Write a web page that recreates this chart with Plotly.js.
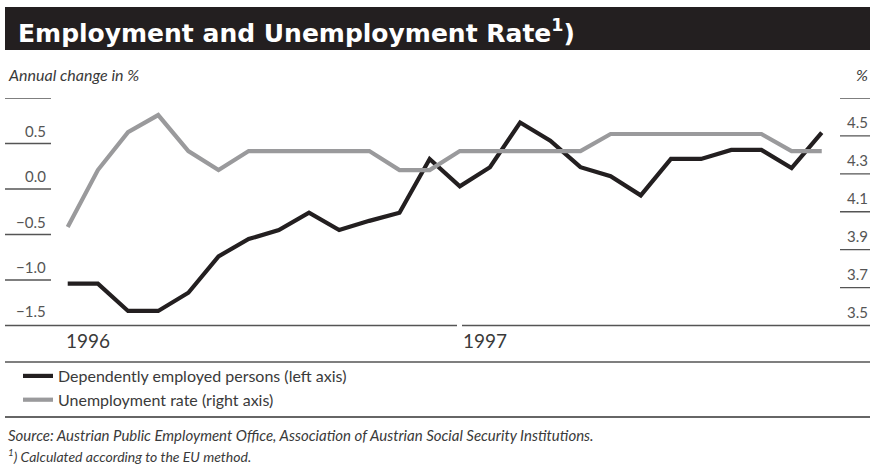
<!DOCTYPE html>
<html><head><meta charset="utf-8">
<script src="https://cdn.plot.ly/plotly-3.0.1.min.js"></script>
<style>html,body{margin:0;padding:0;background:#fff}#chart{width:870px;height:466px}</style>
</head><body><div id="chart"></div>
<script>
// ---- data ----
const monthIdx = [0,1,2,3,4,5,6,7,8,9,10,11,12,13,14,15,16,17,18,19,20,21,22,23,24,25];
const employment = [-1.04,-1.04,-1.34,-1.34,-1.14,-0.74,-0.55,-0.45,-0.26,-0.45,-0.35,-0.26,0.33,0.03,0.24,0.73,0.53,0.24,0.14,-0.07,0.33,0.33,0.43,0.43,0.23,0.62];
const unemployment = [4.02,4.32,4.52,4.61,4.42,4.32,4.42,4.42,4.42,4.42,4.42,4.32,4.32,4.42,4.42,4.42,4.42,4.42,4.51,4.51,4.51,4.51,4.51,4.51,4.42,4.42];
const yearLabels = ['1996','1997'];
const yearStart = [0,13];
const leftTicks = [1.0,0.5,0.0,-0.5,-1.0];
const leftLabels = ['','0.5','0.0','\u22120.5','\u22121.0'];
const leftBottom = -1.5, leftBottomLabel = '\u22121.5';
const rightTicks = [4.7,4.5,4.3,4.1,3.9,3.7];
const rightLabels = ['','4.5','4.3','4.1','3.9','3.7'];
const rightBottom = 3.5, rightBottomLabel = '3.5';
const seriesNames = ['Dependently employed persons (left axis)','Unemployment rate (right axis)'];

// ---- layout helpers ----
const W = 870, H = 466;
const px = v => v / W;
const py = v => 1 - v / H;
const txt = '#3a3a3a';
const tickTxt = '#555';

const traces = [
  {x: monthIdx, y: employment, name: seriesNames[0], type: 'scatter', mode: 'lines',
   line: {color: '#231f20', width: 4.2}, yaxis: 'y'},
  {x: monthIdx, y: unemployment, name: seriesNames[1], type: 'scatter', mode: 'lines',
   line: {color: '#9a9a9c', width: 4.2}, yaxis: 'y2'}
];

const shapes = [
  {type: 'rect', xref: 'paper', yref: 'paper', x0: px(5), x1: 1, y0: py(50), y1: py(7),
   fillcolor: '#231f20', line: {width: 0}, layer: 'below'},
  {type: 'line', xref: 'paper', yref: 'paper', x0: px(5), x1: px(457), y0: py(325.5), y1: py(325.5), line: {color: '#555', width: 1.4}},
  {type: 'line', xref: 'paper', yref: 'paper', x0: px(462), x1: 1, y0: py(325.5), y1: py(325.5), line: {color: '#555', width: 1.4}},
  {type: 'line', xref: 'paper', yref: 'paper', x0: px(5), x1: 1, y0: py(362), y1: py(362), line: {color: '#555', width: 1.4}},
  {type: 'line', xref: 'paper', yref: 'paper', x0: px(5), x1: 1, y0: py(417), y1: py(417), line: {color: '#333', width: 1.4}}
];
leftTicks.forEach(v => shapes.push({type: 'line', xref: 'paper', yref: 'y', x0: px(5), x1: px(51), y0: v, y1: v, line: {color: '#555', width: 1.4}}));
rightTicks.forEach(v => shapes.push({type: 'line', xref: 'paper', yref: 'y2', x0: px(840), x1: 1, y0: v, y1: v, line: {color: '#555', width: 1.4}}));

const annotations = [
  {xref: 'paper', yref: 'paper', x: px(16), y: py(31), xanchor: 'left', yanchor: 'middle', showarrow: false,
   text: '<b>Employment and Unemployment Rate<sup>1</sup>)</b>', font: {family: 'DejaVu Sans', size: 25, color: '#ffffff'}},
  {xref: 'paper', yref: 'paper', x: px(6), y: py(74), xanchor: 'left', yanchor: 'middle', showarrow: false,
   text: '<i>Annual change in %</i>', font: {family: 'Lato', size: 16, color: txt}},
  {xref: 'paper', yref: 'paper', x: 1, y: py(74), xanchor: 'right', yanchor: 'middle', showarrow: false,
   text: '<i>%</i>', font: {family: 'Lato', size: 16, color: txt}},
  {xref: 'paper', yref: 'paper', x: px(6), y: py(435), xanchor: 'left', yanchor: 'middle', showarrow: false,
   text: '<i>Source: Austrian Public Employment Office, Association of Austrian Social Security Institutions.</i>', font: {family: 'Lato', size: 15, color: txt}},
  {xref: 'paper', yref: 'paper', x: px(6), y: py(455), xanchor: 'left', yanchor: 'middle', showarrow: false,
   text: '<i><sup>1</sup>) Calculated according to the EU method.</i>', font: {family: 'Lato', size: 14, color: txt}}
];
leftLabels.forEach((t, i) => { if (t) annotations.push({xref: 'paper', yref: 'y', x: px(48), y: leftTicks[i], yshift: 13, xanchor: 'right', yanchor: 'middle', showarrow: false, text: t, font: {family: 'Lato', size: 15, color: tickTxt}}); });
annotations.push({xref: 'paper', yref: 'y', x: px(48), y: leftBottom, yshift: 15, xanchor: 'right', yanchor: 'middle', showarrow: false, text: leftBottomLabel, font: {family: 'Lato', size: 15, color: tickTxt}});
rightLabels.forEach((t, i) => { if (t) annotations.push({xref: 'paper', yref: 'y2', x: 1, y: rightTicks[i], yshift: 14, xanchor: 'right', yanchor: 'middle', showarrow: false, text: t, font: {family: 'Lato', size: 15, color: tickTxt}}); });
annotations.push({xref: 'paper', yref: 'y2', x: 1, y: rightBottom, yshift: 14, xanchor: 'right', yanchor: 'middle', showarrow: false, text: rightBottomLabel, font: {family: 'Lato', size: 15, color: tickTxt}});
yearLabels.forEach((t, i) => annotations.push({xref: 'x', yref: 'paper', x: yearStart[i], y: py(340), xshift: i === 0 ? -4 : 1, xanchor: 'left', yanchor: 'middle', showarrow: false, text: t, font: {family: 'Lato', size: 19, color: txt}}));

const layout = {
  width: W, height: H,
  margin: {l: 0, r: 0, t: 0, b: 0},
  paper_bgcolor: '#fff', plot_bgcolor: 'rgba(0,0,0,0)',
  showlegend: true,
  legend: {x: px(18), y: py(359), xanchor: 'left', yanchor: 'top', bgcolor: 'rgba(0,0,0,0)',
           font: {family: 'Lato', size: 16, color: txt}, tracegroupgap: 0, itemwidth: 30},
  xaxis: {range: [-2.245, 26.60], domain: [0, 1], showgrid: false, zeroline: false, showticklabels: false, ticks: '', showline: false, fixedrange: true},
  yaxis: {range: [-1.5, 1.0], domain: [py(325.5), py(98)], showgrid: false, zeroline: false, showticklabels: false, ticks: '', showline: false},
  yaxis2: {range: [3.5, 4.7], domain: [py(325.5), py(98)], overlaying: 'y', side: 'right', showgrid: false, zeroline: false, showticklabels: false, ticks: '', showline: false},
  shapes: shapes,
  annotations: annotations
};

Plotly.newPlot('chart', traces, layout, {staticPlot: true, displayModeBar: false});
</script>
</body></html>
